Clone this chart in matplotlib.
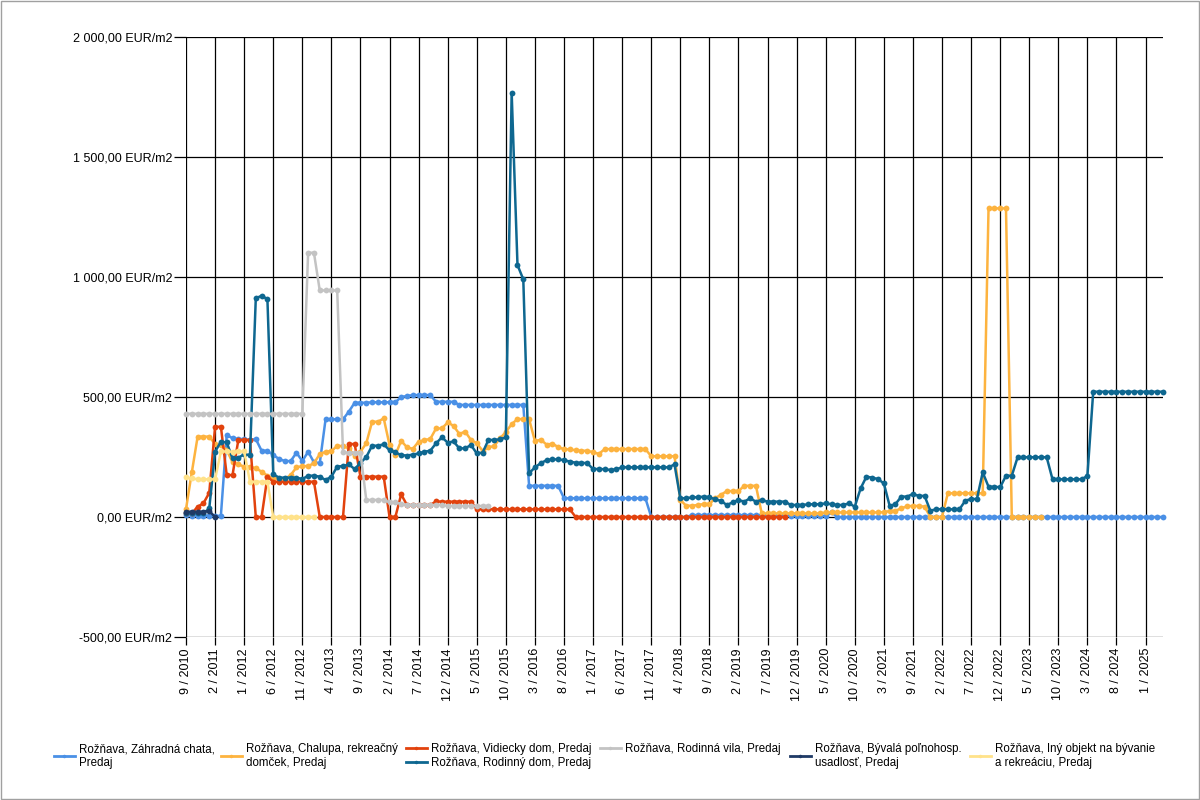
import numpy as np
import matplotlib
matplotlib.use("Agg")
import matplotlib.pyplot as plt
from matplotlib.ticker import FuncFormatter
from matplotlib.lines import Line2D
from matplotlib.patches import Rectangle

# Monthly price per m2, index = position on the category axis (series just stop where data ends)
zahradna_chata = [
    8, 6, 6, 6, 6, 3, 6, 342, 328, 325,
    325, 321, 325, 276, 276, 258, 242, 233, 233, 268,
    233, 272, 228, 224, 407, 407, 407, 407, 439, 476,
    476, 476, 478, 478, 478, 478, 478, 500, 504, 508,
    508, 508, 508, 480, 480, 480, 480, 467, 467, 467,
    467, 467, 467, 467, 467, 467, 467, 467, 467, 130,
    130, 130, 130, 130, 130, 78, 78, 78, 78, 78,
    78, 78, 78, 78, 78, 78, 78, 78, 78, 78,
    0, 0, 0, 0, 0, 0, 0, 8, 8, 8,
    8, 8, 8, 8, 8, 8, 8, 8, 8, 8,
    8, 8, 8, 8, 5, 5, 5, 5, 5, 5,
    5, 20, 0, 0, 0, 0, 0, 0, 0, 0,
    0, 0, 0, 0, 0, 0, 0, 0, 0, 0,
    0, 0, 0, 0, 0, 0, 0, 0, 0, 0,
    0, 0, 0, 0, 0, 0, 0, 0, 0, 0,
    0, 0, 0, 0, 0, 0, 0, 0, 0, 0,
    0, 0, 0, 0, 0, 0, 0, 0, 0,
]
chalupa = [
    33, 186, 335, 335, 335, 304, 300, 279, 228, 219,
    210, 210, 203, 189, 172, 161, 158, 158, 175, 207,
    212, 212, 224, 262, 272, 275, 296, 296, 286, 254,
    272, 307, 397, 397, 411, 300, 258, 318, 290, 284,
    314, 321, 325, 369, 369, 394, 380, 346, 356, 321,
    307, 276, 290, 296, 328, 354, 387, 408, 408, 408,
    316, 322, 302, 305, 292, 282, 282, 278, 276, 276,
    270, 263, 283, 283, 283, 283, 283, 283, 283, 283,
    253, 253, 253, 253, 253, 71, 47, 47, 50, 54,
    54, 78, 93, 108, 108, 108, 130, 130, 130, 15,
    15, 15, 15, 15, 15, 15, 15, 15, 15, 15,
    19, 19, 19, 19, 19, 19, 19, 19, 19, 19,
    20, 25, 26, 36, 45, 46, 46, 43, 0, 0,
    0, 99, 99, 99, 99, 99, 99, 99, 1286, 1286,
    1286, 1286, 0, 0, 0, 0, 0, 0,
]
vidiecky_dom = [
    15, 15, 43, 57, 101, 376, 376, 175, 175, 321,
    321, 321, 0, 0, 168, 147, 147, 147, 147, 147,
    147, 147, 147, 0, 0, 0, 0, 0, 304, 304,
    168, 168, 168, 168, 168, 0, 0, 94, 50, 50,
    50, 50, 50, 65, 64, 64, 64, 64, 64, 64,
    32, 32, 32, 32, 32, 32, 32, 32, 32, 32,
    32, 32, 32, 32, 32, 32, 32, 0, 0, 0,
    0, 0, 0, 0, 0, 0, 0, 0, 0, 0,
    0, 0, 0, 0, 0, 0, 0, 0, 0, 0,
    0, 0, 0, 0, 0, 0, 0, 0, 0, 0,
    0, 0, 0, 0,
]
rodinny_dom = [
    15, 15, 15, 15, 36, 272, 314, 311, 244, 247,
    261, 258, 911, 922, 908, 178, 164, 164, 164, 164,
    158, 172, 172, 168, 154, 168, 210, 212, 219, 200,
    225, 250, 297, 297, 303, 278, 269, 258, 256, 260,
    265, 272, 276, 307, 332, 310, 315, 286, 286, 300,
    265, 268, 321, 321, 324, 332, 1768, 1050, 990, 182,
    207, 224, 237, 240, 240, 237, 231, 226, 226, 224,
    200, 200, 199, 196, 199, 207, 207, 207, 207, 207,
    207, 207, 207, 207, 219, 78, 78, 82, 82, 85,
    82, 74, 67, 50, 61, 71, 64, 78, 64, 71,
    64, 64, 64, 64, 50, 50, 50, 53, 53, 53,
    57, 53, 50, 50, 57, 43, 119, 168, 164, 158,
    140, 46, 54, 85, 85, 96, 88, 88, 26, 33,
    32, 32, 32, 32, 68, 75, 75, 186, 126, 126,
    124, 172, 172, 249, 249, 249, 249, 249, 249, 157,
    157, 157, 157, 157, 157, 171, 522, 522, 522, 522,
    522, 522, 522, 522, 522, 522, 522, 522, 522,
]
rodinna_vila = [
    430, 430, 430, 430, 430, 430, 430, 430, 430, 430,
    430, 430, 430, 430, 430, 430, 430, 430, 430, 430,
    430, 1101, 1101, 944, 944, 944, 944, 270, 268, 268,
    268, 71, 71, 71, 71, 61, 61, 55, 50, 50,
    50, 50, 50, 50, 50, 46, 46, 46, 46, 46,
    46, 46, 46,
]
byvala_usadlost = [22, 22, 22, 22, 25, 0]
iny_objekt = [
    165, 161, 157, 157, 157, 157, 273, 273, 272, 273,
    273, 147, 147, 147, 147, 0, 0, 0, 0, 0,
    0, 0, 0,
]

tick_labels = [
    "9 / 2010", "2 / 2011", "1 / 2012", "6 / 2012", "11 / 2012", "4 / 2013",
    "9 / 2013", "2 / 2014", "7 / 2014", "12 / 2014", "5 / 2015", "10 / 2015",
    "3 / 2016", "8 / 2016", "1 / 2017", "6 / 2017", "11 / 2017", "4 / 2018",
    "9 / 2018", "2 / 2019", "7 / 2019", "12 / 2019", "5 / 2020", "10 / 2020",
    "3 / 2021", "9 / 2021", "2 / 2022", "7 / 2022", "12 / 2022", "5 / 2023",
    "10 / 2023", "3 / 2024", "8 / 2024", "1 / 2025",
]

series = [
    ("Rožňava, Záhradná chata,\nPredaj", zahradna_chata, "#4A90E6"),
    ("Rožňava, Chalupa, rekreačný\ndomček, Predaj", chalupa, "#FDB33F"),
    ("Rožňava, Vidiecky dom, Predaj", vidiecky_dom, "#E2420D"),
    ("Rožňava, Rodinný dom, Predaj", rodinny_dom, "#0E6790"),
    ("Rožňava, Rodinná vila, Predaj", rodinna_vila, "#C3C3C3"),
    ("Rožňava, Bývalá poľnohosp.\nusadlosť, Predaj", byvala_usadlost, "#1F3A66"),
    ("Rožňava, Iný objekt na bývanie\na rekreáciu, Predaj", iny_objekt, "#FFE28A"),
]

plt.rcParams['font.family'] = ['Liberation Sans', 'DejaVu Sans']
plt.rcParams['font.size'] = 9

fig = plt.figure(figsize=(12, 8), dpi=100)
ax = fig.add_axes([186 / 1200, 1 - 637 / 800, (1163 - 186) / 1200, 600 / 800])

handles = []
for label, vals, color in series:
    ax.plot(np.arange(len(vals)), vals, color=color, lw=1.8, marker='o',
            ms=4.2, mew=0, solid_joinstyle='round', clip_on=False)
    handles.append(Line2D([], [], color=color, lw=2, marker='o', ms=2.5, mew=0))

ax.set_xlim(0, 168)
ax.set_ylim(-500, 2000)
ax.set_xticks(np.arange(0, 166, 5))
ax.set_xticklabels(tick_labels, rotation=90)
ax.set_yticks([-500, 0, 500, 1000, 1500, 2000])


def eur(v, pos):
    s = f"{v:,.2f}".replace(",", " ").replace(".", ",")
    return s + " EUR/m2"


ax.yaxis.set_major_formatter(FuncFormatter(eur))
ax.grid(True, color='black', lw=0.9)
ax.set_axisbelow(True)
for sp in ax.spines.values():
    sp.set_visible(False)
ax.tick_params(axis='y', length=9, width=0.9, pad=1)
ax.tick_params(axis='x', length=6, width=0.9, pad=2)

# legend laid out in columns like the original (Rodinný dom sits under Vidiecky dom)
columns = [([0], 54), ([1], 221), ([2, 3], 406), ([4], 600), ([5], 790), ([6], 970)]
for idx, xpx in columns:
    fig.legend([handles[i] for i in idx], [series[i][0] for i in idx],
               loc='upper left', bbox_to_anchor=(xpx / 1200, 1 - 743 / 800),
               frameon=False, fontsize=8.3, handlelength=1.8, handletextpad=0.4,
               borderpad=0, borderaxespad=0, labelspacing=0.15)

# thin grey frame round the whole image
fig.patches.append(Rectangle((0.0005, 0.001), 0.999, 0.998, transform=fig.transFigure,
                             fill=False, edgecolor='#a0a0a0', lw=1))

fig.savefig('out.png', dpi=100)
